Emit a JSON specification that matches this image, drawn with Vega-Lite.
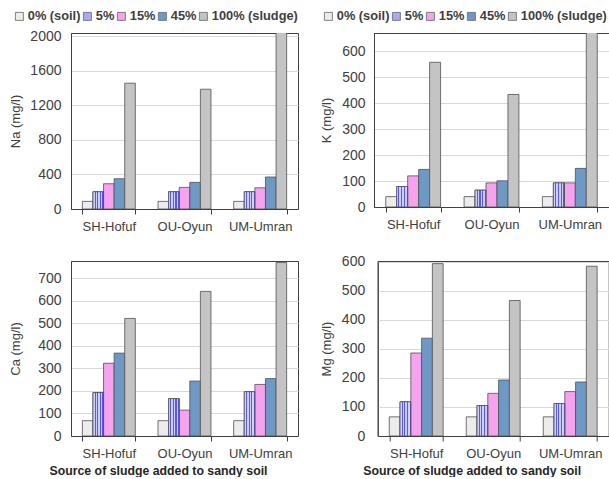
{
  "$schema": "https://vega.github.io/schema/vega-lite/v6.json",
  "padding": {"left": 8, "top": 9, "right": 0, "bottom": 0},
  "background": "white",
  "data": {"values": [
    {"el": "Na", "src": "SH-Hofuf", "lvl": "0% (soil)", "v": 88},
    {"el": "Na", "src": "SH-Hofuf", "lvl": "5%", "v": 200},
    {"el": "Na", "src": "SH-Hofuf", "lvl": "15%", "v": 292},
    {"el": "Na", "src": "SH-Hofuf", "lvl": "45%", "v": 350},
    {"el": "Na", "src": "SH-Hofuf", "lvl": "100% (sludge)", "v": 1455},
    {"el": "Na", "src": "OU-Oyun", "lvl": "0% (soil)", "v": 88},
    {"el": "Na", "src": "OU-Oyun", "lvl": "5%", "v": 200},
    {"el": "Na", "src": "OU-Oyun", "lvl": "15%", "v": 250},
    {"el": "Na", "src": "OU-Oyun", "lvl": "45%", "v": 308},
    {"el": "Na", "src": "OU-Oyun", "lvl": "100% (sludge)", "v": 1385},
    {"el": "Na", "src": "UM-Umran", "lvl": "0% (soil)", "v": 88},
    {"el": "Na", "src": "UM-Umran", "lvl": "5%", "v": 200},
    {"el": "Na", "src": "UM-Umran", "lvl": "15%", "v": 245},
    {"el": "Na", "src": "UM-Umran", "lvl": "45%", "v": 370},
    {"el": "Na", "src": "UM-Umran", "lvl": "100% (sludge)", "v": 2060},
    {"el": "K", "src": "SH-Hofuf", "lvl": "0% (soil)", "v": 40},
    {"el": "K", "src": "SH-Hofuf", "lvl": "5%", "v": 79},
    {"el": "K", "src": "SH-Hofuf", "lvl": "15%", "v": 120},
    {"el": "K", "src": "SH-Hofuf", "lvl": "45%", "v": 145},
    {"el": "K", "src": "SH-Hofuf", "lvl": "100% (sludge)", "v": 558},
    {"el": "K", "src": "OU-Oyun", "lvl": "0% (soil)", "v": 40},
    {"el": "K", "src": "OU-Oyun", "lvl": "5%", "v": 65},
    {"el": "K", "src": "OU-Oyun", "lvl": "15%", "v": 93},
    {"el": "K", "src": "OU-Oyun", "lvl": "45%", "v": 101},
    {"el": "K", "src": "OU-Oyun", "lvl": "100% (sludge)", "v": 434},
    {"el": "K", "src": "UM-Umran", "lvl": "0% (soil)", "v": 40},
    {"el": "K", "src": "UM-Umran", "lvl": "5%", "v": 93},
    {"el": "K", "src": "UM-Umran", "lvl": "15%", "v": 93},
    {"el": "K", "src": "UM-Umran", "lvl": "45%", "v": 149},
    {"el": "K", "src": "UM-Umran", "lvl": "100% (sludge)", "v": 680},
    {"el": "Ca", "src": "SH-Hofuf", "lvl": "0% (soil)", "v": 68},
    {"el": "Ca", "src": "SH-Hofuf", "lvl": "5%", "v": 193},
    {"el": "Ca", "src": "SH-Hofuf", "lvl": "15%", "v": 323},
    {"el": "Ca", "src": "SH-Hofuf", "lvl": "45%", "v": 368},
    {"el": "Ca", "src": "SH-Hofuf", "lvl": "100% (sludge)", "v": 522},
    {"el": "Ca", "src": "OU-Oyun", "lvl": "0% (soil)", "v": 68},
    {"el": "Ca", "src": "OU-Oyun", "lvl": "5%", "v": 166},
    {"el": "Ca", "src": "OU-Oyun", "lvl": "15%", "v": 115},
    {"el": "Ca", "src": "OU-Oyun", "lvl": "45%", "v": 244},
    {"el": "Ca", "src": "OU-Oyun", "lvl": "100% (sludge)", "v": 642},
    {"el": "Ca", "src": "UM-Umran", "lvl": "0% (soil)", "v": 68},
    {"el": "Ca", "src": "UM-Umran", "lvl": "5%", "v": 197},
    {"el": "Ca", "src": "UM-Umran", "lvl": "15%", "v": 229},
    {"el": "Ca", "src": "UM-Umran", "lvl": "45%", "v": 255},
    {"el": "Ca", "src": "UM-Umran", "lvl": "100% (sludge)", "v": 770},
    {"el": "Mg", "src": "SH-Hofuf", "lvl": "0% (soil)", "v": 66},
    {"el": "Mg", "src": "SH-Hofuf", "lvl": "5%", "v": 118},
    {"el": "Mg", "src": "SH-Hofuf", "lvl": "15%", "v": 286},
    {"el": "Mg", "src": "SH-Hofuf", "lvl": "45%", "v": 337},
    {"el": "Mg", "src": "SH-Hofuf", "lvl": "100% (sludge)", "v": 594},
    {"el": "Mg", "src": "OU-Oyun", "lvl": "0% (soil)", "v": 66},
    {"el": "Mg", "src": "OU-Oyun", "lvl": "5%", "v": 105},
    {"el": "Mg", "src": "OU-Oyun", "lvl": "15%", "v": 147},
    {"el": "Mg", "src": "OU-Oyun", "lvl": "45%", "v": 193},
    {"el": "Mg", "src": "OU-Oyun", "lvl": "100% (sludge)", "v": 467},
    {"el": "Mg", "src": "UM-Umran", "lvl": "0% (soil)", "v": 66},
    {"el": "Mg", "src": "UM-Umran", "lvl": "5%", "v": 112},
    {"el": "Mg", "src": "UM-Umran", "lvl": "15%", "v": 153},
    {"el": "Mg", "src": "UM-Umran", "lvl": "45%", "v": 186},
    {"el": "Mg", "src": "UM-Umran", "lvl": "100% (sludge)", "v": 585}
  ]},
  "vconcat": [
    {
      "hconcat": [
        {
          "width": 227, "height": 176,
          "transform": [{"filter": "datum.el === 'Na'"}],
          "encoding": {
            "x": {"field": "src", "type": "nominal", "sort": null, "scale": {"paddingInner": 0.3, "paddingOuter": 0.15}, "axis": {"title": null}},
            "xOffset": {"field": "lvl", "type": "nominal", "sort": null, "scale": {"domain": ["0% (soil)", "5%", "15%", "45%", "100% (sludge)"], "paddingInner": 0, "paddingOuter": 0}},
            "y": {"field": "v", "type": "quantitative", "scale": {"domain": [0, 2035], "nice": false}, "axis": {"title": "Na (mg/l)", "format": "d", "values": [0, 400, 800, 1200, 1600, 2000], "labelPadding": 10, "minExtent": 40, "maxExtent": 40, "titlePadding": 9}}
          },
          "layer": [
            {
              "mark": {"type": "bar", "clip": true, "width": {"band": 1}},
              "encoding": {"color": {"field": "lvl", "type": "nominal", "sort": null, "scale": {"domain": ["0% (soil)", "5%", "15%", "45%", "100% (sludge)"], "range": ["#ececec", "#a9abf2", "#f5a3ee", "#6f99c5", "#c4c4c4"]}, "legend": {"orient": "none", "legendX": -58, "legendY": -23, "direction": "horizontal", "gridAlign": "none", "columnPadding": 0, "labelOffset": 2}}}
            },
            {
              "transform": [{"filter": "datum.lvl === '5%'"}],
              "mark": {"type": "bar", "clip": true, "width": {"band": 1}, "fill": {"gradient": "linear", "x1": 0, "y1": 0, "x2": 1, "y2": 0, "stops": [{"offset": 0, "color": "#cfcffb"}, {"offset": 0.15, "color": "#cfcffb"}, {"offset": 0.15, "color": "#5a5aea"}, {"offset": 0.25, "color": "#5a5aea"}, {"offset": 0.25, "color": "#cfcffb"}, {"offset": 0.4, "color": "#cfcffb"}, {"offset": 0.4, "color": "#5a5aea"}, {"offset": 0.5, "color": "#5a5aea"}, {"offset": 0.5, "color": "#cfcffb"}, {"offset": 0.65, "color": "#cfcffb"}, {"offset": 0.65, "color": "#5a5aea"}, {"offset": 0.75, "color": "#5a5aea"}, {"offset": 0.75, "color": "#cfcffb"}, {"offset": 0.9, "color": "#cfcffb"}, {"offset": 0.9, "color": "#5a5aea"}, {"offset": 1, "color": "#5a5aea"}]}},
              "encoding": {}
            }
          ]
        },
        {
          "width": 235, "height": 174,
          "transform": [{"filter": "datum.el === 'K'"}],
          "encoding": {
            "x": {"field": "src", "type": "nominal", "sort": null, "scale": {"paddingInner": 0.3, "paddingOuter": 0.15}, "axis": {"title": null}},
            "xOffset": {"field": "lvl", "type": "nominal", "sort": null, "scale": {"domain": ["0% (soil)", "5%", "15%", "45%", "100% (sludge)"], "paddingInner": 0, "paddingOuter": 0}},
            "y": {"field": "v", "type": "quantitative", "scale": {"domain": [0, 671], "nice": false}, "axis": {"title": "K (mg/l)", "format": "d", "values": [0, 100, 200, 300, 400, 500, 600], "labelPadding": 9, "minExtent": 40, "maxExtent": 40, "titlePadding": 1}}
          },
          "layer": [
            {
              "mark": {"type": "bar", "clip": true, "width": {"band": 1}},
              "encoding": {"color": {"field": "lvl", "type": "nominal", "sort": null, "scale": {"domain": ["0% (soil)", "5%", "15%", "45%", "100% (sludge)"], "range": ["#ececec", "#a9abf2", "#f5a3ee", "#6f99c5", "#c4c4c4"]}, "legend": {"orient": "none", "legendX": -52, "legendY": -23, "direction": "horizontal", "gridAlign": "none", "columnPadding": 0, "labelOffset": 2}}}
            },
            {
              "transform": [{"filter": "datum.lvl === '5%'"}],
              "mark": {"type": "bar", "clip": true, "width": {"band": 1}, "fill": {"gradient": "linear", "x1": 0, "y1": 0, "x2": 1, "y2": 0, "stops": [{"offset": 0, "color": "#cfcffb"}, {"offset": 0.15, "color": "#cfcffb"}, {"offset": 0.15, "color": "#5a5aea"}, {"offset": 0.25, "color": "#5a5aea"}, {"offset": 0.25, "color": "#cfcffb"}, {"offset": 0.4, "color": "#cfcffb"}, {"offset": 0.4, "color": "#5a5aea"}, {"offset": 0.5, "color": "#5a5aea"}, {"offset": 0.5, "color": "#cfcffb"}, {"offset": 0.65, "color": "#cfcffb"}, {"offset": 0.65, "color": "#5a5aea"}, {"offset": 0.75, "color": "#5a5aea"}, {"offset": 0.75, "color": "#cfcffb"}, {"offset": 0.9, "color": "#cfcffb"}, {"offset": 0.9, "color": "#5a5aea"}, {"offset": 1, "color": "#5a5aea"}]}},
              "encoding": {}
            }
          ]
        }
      ],
      "spacing": 76,
      "bounds": "flush",
      "resolve": {"scale": {"color": "independent", "y": "independent", "x": "independent", "xOffset": "independent"}}
    },
    {
      "hconcat": [
        {
          "width": 227, "height": 175,
          "transform": [{"filter": "datum.el === 'Ca'"}],
          "encoding": {
            "x": {"field": "src", "type": "nominal", "sort": null, "scale": {"paddingInner": 0.3, "paddingOuter": 0.15}, "axis": {"title": "Source of sludge added to sandy soil", "titleX": 87, "titleY": 28, "titleAlign": "center", "titleBaseline": "top"}},
            "xOffset": {"field": "lvl", "type": "nominal", "sort": null, "scale": {"domain": ["0% (soil)", "5%", "15%", "45%", "100% (sludge)"], "paddingInner": 0, "paddingOuter": 0}},
            "y": {"field": "v", "type": "quantitative", "scale": {"domain": [0, 777], "nice": false}, "axis": {"title": "Ca  (mg/l)", "format": "d", "values": [0, 100, 200, 300, 400, 500, 600, 700], "labelPadding": 10, "minExtent": 40, "maxExtent": 40, "titlePadding": 9}}
          },
          "layer": [
            {
              "mark": {"type": "bar", "clip": true, "width": {"band": 1}},
              "encoding": {"color": {"field": "lvl", "type": "nominal", "sort": null, "scale": {"domain": ["0% (soil)", "5%", "15%", "45%", "100% (sludge)"], "range": ["#ececec", "#a9abf2", "#f5a3ee", "#6f99c5", "#c4c4c4"]}, "legend": null}}
            },
            {
              "transform": [{"filter": "datum.lvl === '5%'"}],
              "mark": {"type": "bar", "clip": true, "width": {"band": 1}, "fill": {"gradient": "linear", "x1": 0, "y1": 0, "x2": 1, "y2": 0, "stops": [{"offset": 0, "color": "#cfcffb"}, {"offset": 0.15, "color": "#cfcffb"}, {"offset": 0.15, "color": "#5a5aea"}, {"offset": 0.25, "color": "#5a5aea"}, {"offset": 0.25, "color": "#cfcffb"}, {"offset": 0.4, "color": "#cfcffb"}, {"offset": 0.4, "color": "#5a5aea"}, {"offset": 0.5, "color": "#5a5aea"}, {"offset": 0.5, "color": "#cfcffb"}, {"offset": 0.65, "color": "#cfcffb"}, {"offset": 0.65, "color": "#5a5aea"}, {"offset": 0.75, "color": "#5a5aea"}, {"offset": 0.75, "color": "#cfcffb"}, {"offset": 0.9, "color": "#cfcffb"}, {"offset": 0.9, "color": "#5a5aea"}, {"offset": 1, "color": "#5a5aea"}]}},
              "encoding": {}
            }
          ]
        },
        {
          "width": 231, "height": 175,
          "transform": [{"filter": "datum.el === 'Mg'"}],
          "encoding": {
            "x": {"field": "src", "type": "nominal", "sort": null, "scale": {"paddingInner": 0.3, "paddingOuter": 0.15}, "axis": {"title": "Source of sludge added to sandy soil", "titleX": 94, "titleY": 28, "titleAlign": "center", "titleBaseline": "top"}},
            "xOffset": {"field": "lvl", "type": "nominal", "sort": null, "scale": {"domain": ["0% (soil)", "5%", "15%", "45%", "100% (sludge)"], "paddingInner": 0, "paddingOuter": 0}},
            "y": {"field": "v", "type": "quantitative", "scale": {"domain": [0, 603], "nice": false}, "axis": {"title": "Mg  (mg/l)", "format": "d", "values": [0, 100, 200, 300, 400, 500, 600], "labelPadding": 13, "minExtent": 40, "maxExtent": 40, "titlePadding": 4.7}}
          },
          "layer": [
            {
              "mark": {"type": "bar", "clip": true, "width": {"band": 1}},
              "encoding": {"color": {"field": "lvl", "type": "nominal", "sort": null, "scale": {"domain": ["0% (soil)", "5%", "15%", "45%", "100% (sludge)"], "range": ["#ececec", "#a9abf2", "#f5a3ee", "#6f99c5", "#c4c4c4"]}, "legend": null}}
            },
            {
              "transform": [{"filter": "datum.lvl === '5%'"}],
              "mark": {"type": "bar", "clip": true, "width": {"band": 1}, "fill": {"gradient": "linear", "x1": 0, "y1": 0, "x2": 1, "y2": 0, "stops": [{"offset": 0, "color": "#cfcffb"}, {"offset": 0.15, "color": "#cfcffb"}, {"offset": 0.15, "color": "#5a5aea"}, {"offset": 0.25, "color": "#5a5aea"}, {"offset": 0.25, "color": "#cfcffb"}, {"offset": 0.4, "color": "#cfcffb"}, {"offset": 0.4, "color": "#5a5aea"}, {"offset": 0.5, "color": "#5a5aea"}, {"offset": 0.5, "color": "#cfcffb"}, {"offset": 0.65, "color": "#cfcffb"}, {"offset": 0.65, "color": "#5a5aea"}, {"offset": 0.75, "color": "#5a5aea"}, {"offset": 0.75, "color": "#cfcffb"}, {"offset": 0.9, "color": "#cfcffb"}, {"offset": 0.9, "color": "#5a5aea"}, {"offset": 1, "color": "#5a5aea"}]}},
              "encoding": {}
            }
          ]
        }
      ],
      "spacing": 79.7,
      "bounds": "flush",
      "resolve": {"scale": {"color": "independent", "y": "independent", "x": "independent", "xOffset": "independent"}}
    }
  ],
  "spacing": 20,
  "resolve": {"scale": {"color": "independent", "y": "independent", "x": "independent", "xOffset": "independent"}},
  "config": {
    "font": "Liberation Sans",
    "view": {"stroke": "#404040", "strokeWidth": 1},
    "bar": {"stroke": "#505050", "strokeWidth": 0.8},
    "axis": {"labelFont": "Liberation Sans", "titleFont": "Liberation Sans", "labelColor": "#404040", "titleColor": "#404040", "domainColor": "#404040", "tickColor": "#404040", "gridColor": "#d9d9d9", "gridWidth": 1},
    "axisX": {"labelAngle": 0, "labelFontSize": 13, "tickBand": "extent", "tickSize": 5, "labelPadding": 6, "grid": false, "titleFontSize": 12.3, "titleFontWeight": "bold", "titleColor": "#262626"},
    "axisY": {"labelFontSize": 14, "ticks": false, "tickSize": 0, "grid": true, "titleFontSize": 13, "titleFontWeight": "normal"},
    "legend": {"direction": "horizontal", "title": null, "symbolType": "square", "symbolSize": 64, "symbolStrokeColor": "#666666", "symbolStrokeWidth": 0.8, "labelFont": "Liberation Sans", "labelFontSize": 12.8, "labelFontWeight": "bold", "labelColor": "#404040", "labelOffset": 2, "columnPadding": 0, "padding": 0}
  }
}
